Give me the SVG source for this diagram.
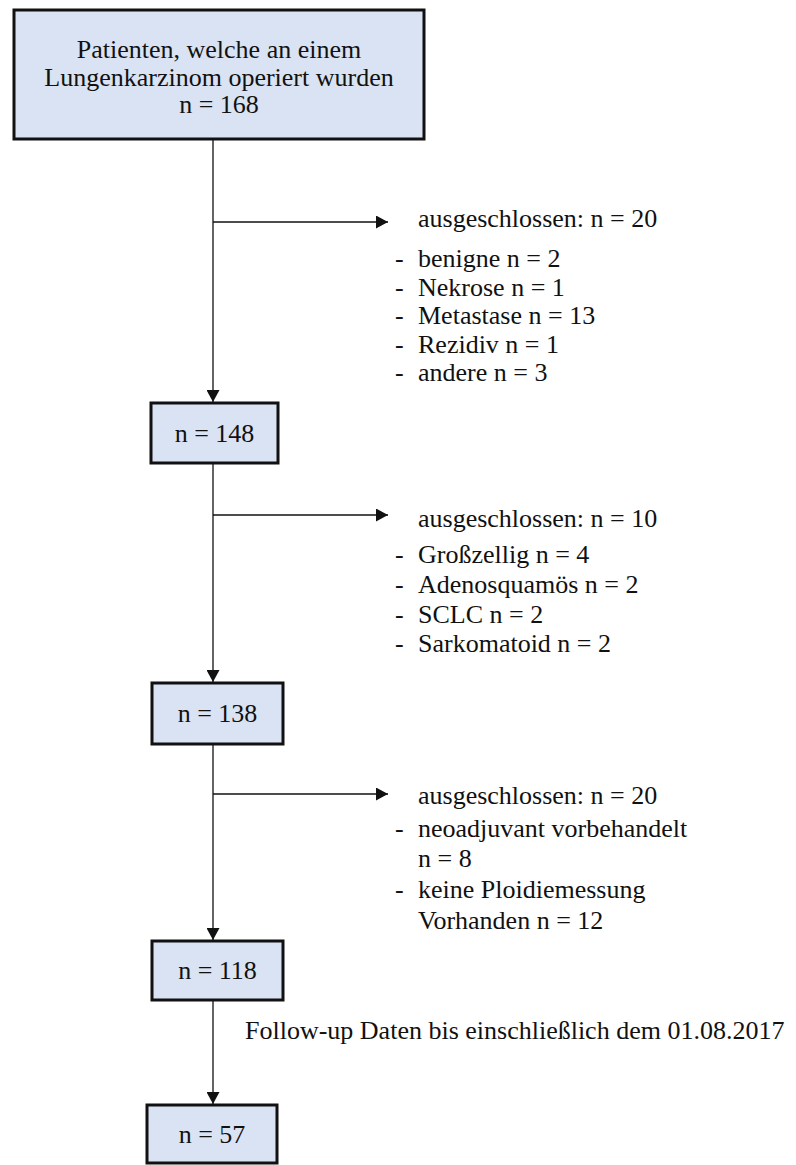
<svg xmlns="http://www.w3.org/2000/svg" width="796" height="1165" viewBox="0 0 796 1165">
<style>
.box{fill:#DAE3F3;stroke:#111;stroke-width:3}
.t{font-family:"Liberation Serif","Times New Roman",serif;font-size:26px;fill:#111}
.c{text-anchor:middle}
.ln{stroke:#111;stroke-width:1.3;fill:none}
</style>
<defs>
<marker id="ah" markerUnits="userSpaceOnUse" markerWidth="12" markerHeight="13" refX="12" refY="6.5" orient="auto">
<path d="M0,0 L12,6.5 L0,13 z" fill="#111"/>
</marker>
</defs>
<rect width="796" height="1165" fill="#fff"/>
<g id="connectors">
<line class="ln" x1="213" y1="139" x2="213" y2="402" marker-end="url(#ah)"/>
<line class="ln" x1="213" y1="222" x2="388" y2="222" marker-end="url(#ah)"/>
<line class="ln" x1="213" y1="463" x2="213" y2="682" marker-end="url(#ah)"/>
<line class="ln" x1="213" y1="515" x2="388" y2="515" marker-end="url(#ah)"/>
<line class="ln" x1="213" y1="744" x2="213" y2="940" marker-end="url(#ah)"/>
<line class="ln" x1="213" y1="794" x2="388" y2="794" marker-end="url(#ah)"/>
<line class="ln" x1="213" y1="1000" x2="213" y2="1104" marker-end="url(#ah)"/>
</g>
<g id="n168">
<rect class="box" x="14" y="10" width="410" height="129"/>
<text class="t c" x="219" y="58">Patienten, welche an einem</text>
<text class="t c" x="219" y="86">Lungenkarzinom operiert wurden</text>
<text class="t c" x="219" y="113">n = 168</text>
</g>
<g id="excl1">
<text class="t" x="418" y="227">ausgeschlossen: n = 20</text>
<text class="t" y="267"><tspan x="395">-</tspan><tspan x="418">benigne n = 2</tspan></text>
<text class="t" y="295.5"><tspan x="395">-</tspan><tspan x="418">Nekrose n = 1</tspan></text>
<text class="t" y="324"><tspan x="395">-</tspan><tspan x="418">Metastase n = 13</tspan></text>
<text class="t" y="352.5"><tspan x="395">-</tspan><tspan x="418">Rezidiv n = 1</tspan></text>
<text class="t" y="381"><tspan x="395">-</tspan><tspan x="418">andere n = 3</tspan></text>
</g>
<g id="n148">
<rect class="box" x="151" y="403" width="127" height="60"/>
<text class="t c" x="214.5" y="442">n = 148</text>
</g>
<g id="excl2">
<text class="t" x="418" y="527">ausgeschlossen: n = 10</text>
<text class="t" y="563"><tspan x="395">-</tspan><tspan x="418">Großzellig n = 4</tspan></text>
<text class="t" y="593"><tspan x="395">-</tspan><tspan x="418">Adenosquamös n = 2</tspan></text>
<text class="t" y="623"><tspan x="395">-</tspan><tspan x="418">SCLC n = 2</tspan></text>
<text class="t" y="652"><tspan x="395">-</tspan><tspan x="418">Sarkomatoid n = 2</tspan></text>
</g>
<g id="n138">
<rect class="box" x="152" y="683" width="131" height="61"/>
<text class="t c" x="217.5" y="722">n = 138</text>
</g>
<g id="excl3">
<text class="t" x="418" y="804">ausgeschlossen: n = 20</text>
<text class="t" y="837"><tspan x="395">-</tspan><tspan x="418">neoadjuvant vorbehandelt</tspan></text>
<text class="t" x="418" y="867">n = 8</text>
<text class="t" y="898"><tspan x="395">-</tspan><tspan x="418">keine Ploidiemessung</tspan></text>
<text class="t" x="418" y="929">Vorhanden n = 12</text>
</g>
<g id="n118">
<rect class="box" x="152" y="941" width="131" height="59"/>
<text class="t c" x="217.5" y="979">n = 118</text>
</g>
<g id="followup">
<text class="t" x="245" y="1039">Follow-up Daten bis einschließlich dem 01.08.2017</text>
</g>
<g id="n57">
<rect class="box" x="147" y="1105" width="130" height="58"/>
<text class="t c" x="212" y="1143">n = 57</text>
</g>
</svg>
